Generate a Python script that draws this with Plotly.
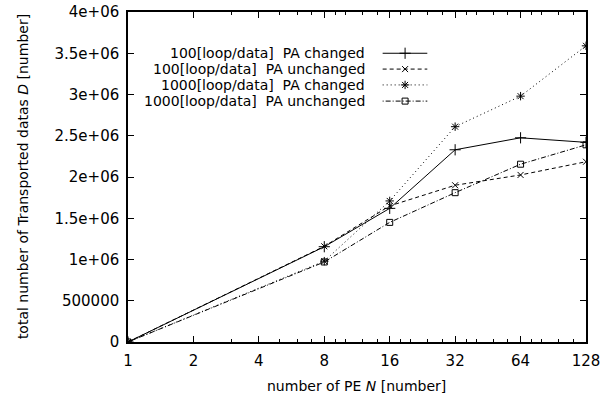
import plotly.graph_objects as go

# ---- data ----
pe = [1, 8, 16, 32, 64, 128]
loop100_changed = [0, 1155000, 1620000, 2330000, 2475000, 2420000]
loop100_unchanged = [0, 1160000, 1650000, 1900000, 2025000, 2185000]
loop1000_changed = [0, 980000, 1710000, 2610000, 2980000, 3590000]
loop1000_unchanged = [0, 970000, 1450000, 1810000, 2155000, 2390000]

series_names = [
    "100[loop/data]  PA changed",
    "100[loop/data]  PA unchanged",
    "1000[loop/data]  PA changed",
    "1000[loop/data]  PA unchanged",
]

x_tickvals = [1, 2, 4, 8, 16, 32, 64, 128]
x_ticktext = ["1", "2", "4", "8", "16", "32", "64", "128"]
x_minor = [3, 5, 6, 7, 9, 10, 12, 14, 18, 20, 24, 28, 36, 40, 48, 56, 72, 80, 96, 112]
y_tickvals = [0, 500000, 1000000, 1500000, 2000000, 2500000, 3000000, 3500000, 4000000]
y_ticktext = ["0", "500000", "1e+06", "1.5e+06", "2e+06", "2.5e+06", "3e+06", "3.5e+06", "4e+06"]

FONT = "DejaVu Sans"
styles = [
    dict(dash="solid", symbol="cross-thin", size=8),
    dict(dash="4px,3px", symbol="x-thin", size=6),
    dict(dash="1px,3px", symbol="asterisk-open", size=7),
    dict(dash="1px,2px,5px,2px", symbol="square-open", size=6),
]
all_series = [loop100_changed, loop100_unchanged, loop1000_changed, loop1000_unchanged]

fig = go.Figure()
for name, ys, st in zip(series_names, all_series, styles):
    fig.add_trace(go.Scatter(
        x=pe, y=ys, name=name, mode="lines+markers",
        line=dict(color="black", width=1, dash=st["dash"]),
        marker=dict(symbol=st["symbol"], size=st["size"], color="black",
                    line=dict(color="black", width=1)),
        showlegend=False,
    ))

# ---- gnuplot-style key: right-aligned text, sample line to the right ----
key_rows = [0.875, 0.827, 0.779, 0.730]
key_text_x = 0.522
key_line_x = [0.556, 0.605, 0.6535]
for name, row, st in zip(series_names, key_rows, styles):
    fig.add_annotation(text=name, xref="paper", yref="paper", x=key_text_x, y=row,
                       xanchor="right", yanchor="middle", showarrow=False,
                       font=dict(family=FONT, size=14, color="black"))
    fig.add_trace(go.Scatter(
        x=key_line_x, y=[row] * 3, xaxis="x2", yaxis="y2", mode="lines",
        line=dict(color="black", width=1, dash=st["dash"]), showlegend=False,
        hoverinfo="skip"))
    fig.add_trace(go.Scatter(
        x=[key_line_x[1]], y=[row], xaxis="x2", yaxis="y2", mode="markers",
        marker=dict(symbol=st["symbol"], size=st["size"], color="black",
                    line=dict(color="black", width=1)),
        showlegend=False, hoverinfo="skip"))

axis_common = dict(
    showline=True, linecolor="black", linewidth=1.5, mirror="ticks",
    ticks="inside", ticklen=6, tickcolor="black", tickwidth=1,
    showgrid=False, zeroline=False, automargin=False,
    ticklabeloverflow="allow",
    tickfont=dict(family=FONT, size=15, color="black"),
)

fig.update_layout(
    width=606, height=394,
    margin=dict(l=128, r=20, t=12, b=52),
    paper_bgcolor="white", plot_bgcolor="rgba(0,0,0,0)",
    font=dict(family=FONT, size=14, color="black"),
    xaxis=dict(type="log", range=[0, 2.10721], tickmode="array",
               tickvals=x_tickvals, ticktext=x_ticktext,
               minor=dict(tickmode="array", tickvals=x_minor, ticks="inside",
                          ticklen=3, tickcolor="black", tickwidth=1, showgrid=False),
               ticklabelstandoff=4,
               **axis_common),
    yaxis=dict(range=[0, 4000000], tickmode="array",
               tickvals=y_tickvals, ticktext=y_ticktext,
               ticklabelstandoff=4,
               **axis_common),
    xaxis2=dict(overlaying="x", anchor="y2", range=[0, 1], visible=False,
                automargin=False),
    yaxis2=dict(overlaying="y", anchor="x2", range=[0, 1], visible=False,
                automargin=False),
    showlegend=False,
)

fig.add_annotation(text="number of PE <i>N</i> [number]", xref="paper", yref="paper",
                   x=0.4985, y=-0.133, xanchor="center", yanchor="middle",
                   showarrow=False, font=dict(family=FONT, size=14, color="black"))
fig.add_annotation(text="total number of Transported datas <i>D</i> [number]",
                   xref="paper", yref="paper", x=-0.229, y=0.5, textangle=-90,
                   xanchor="center", yanchor="middle", showarrow=False,
                   font=dict(family=FONT, size=14, color="black"))

fig.write_html("out.html", config={"displayModeBar": False},
               post_script="document.body.style.margin='0';")
